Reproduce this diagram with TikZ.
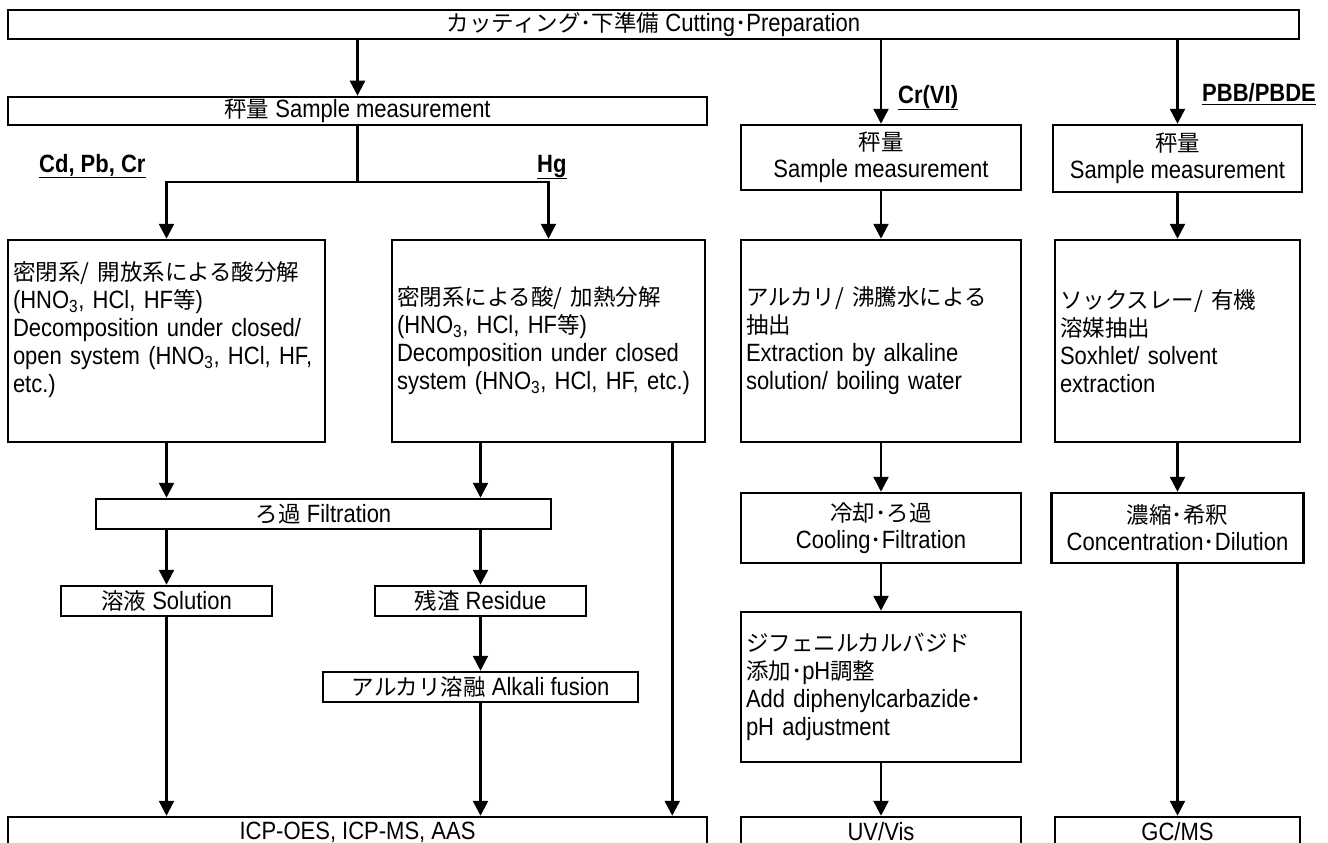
\documentclass[tikz,border=0pt]{standalone}
\usepackage{fontspec}
\setmainfont{Liberation Sans}[FakeStretch=0.88]
\newfontfamily\jpfont{Noto Sans CJK JP}[Scale=0.9]
\usetikzlibrary{arrows.meta}
\def\ja#1{{\jpfont #1}}

\begin{document}
\begin{tikzpicture}[x=1pt, y=-1pt,
	box/.style={draw, line width=2.5pt, inner sep=0pt, align=center, font=\fontsize{25}{27}\selectfont},
	leftbox/.style={box, align=left, inner xsep=5pt, text width=#1, font=\fontsize{25}{28}\selectfont},
	tag/.style={inner sep=0pt, anchor=base west, font=\fontsize{25}{27}\selectfont\bfseries},
	arr/.style={line width=2.5pt, -{Triangle[length=15pt,width=15pt]}}]
			%%%%% START %%%%%
			\useasboundingbox (0,0) rectangle (1328,843);
			\clip (0,0) rectangle (1328,843);
			
			\node[box, minimum width=1291pt, minimum height=29pt] (cut) at (653.5, 24.5) {\ja{カッティング･下準備} Cutting\ja{･}Preparation};
			
			% Cd, Pb, Cr / Hg
			\node[box, minimum width=699pt, minimum height=28pt] (meas) at (357.5, 111) {\ja{秤量} Sample measurement};
			\node[tag] (cdpb) at (39, 172) {\underline{Cd, Pb, Cr}};
			\node[tag] (hg) at (537, 172) {\underline{Hg}};
			\node[leftbox=307pt, minimum width=317pt, minimum height=202pt] (dec1) at (166.5, 341) {\ja{密閉系/ 開放系による酸分解}\\(HNO\textsubscript{3}, HCl, HF\ja{等})\\Decomposition under closed/\\open system (HNO\textsubscript{3}, HCl, HF,\\etc.)\\\mbox{}};
			\node[leftbox=303pt, minimum width=313pt, minimum height=202pt] (dec2) at (548.5, 341) {\ja{密閉系による酸/ 加熱分解}\\(HNO\textsubscript{3}, HCl, HF\ja{等})\\Decomposition under closed\\system (HNO\textsubscript{3}, HCl, HF, etc.)};
			\node[box, minimum width=455pt, minimum height=30pt] (filt) at (323.5, 514) {\ja{ろ過} Filtration};
			\node[box, minimum width=211pt, minimum height=30pt] (sol) at (166.5, 601) {\ja{溶液} Solution};
			\node[box, minimum width=211pt, minimum height=30pt] (resid) at (480.5, 601) {\ja{残渣} Residue};
			\node[box, minimum width=315pt, minimum height=30pt] (alk) at (480.5, 687) {\ja{アルカリ溶融} Alkali fusion};
			\node[box, minimum width=699pt, minimum height=30pt] (icp) at (357.5, 832) {ICP-OES, ICP-MS, AAS};
			
			% Cr(VI)
			\node[tag] (crvi) at (898, 103) {\underline{Cr(VI)}};
			\node[box, minimum width=280pt, minimum height=65pt] (crmeas) at (881, 157.5) {\ja{秤量}\\Sample measurement};
			\node[leftbox=270pt, minimum width=280pt, minimum height=202pt] (crext) at (881, 341) {\ja{アルカリ/ 沸騰水による}\\\ja{抽出}\\Extraction by alkaline\\solution/ boiling water};
			\node[box, minimum width=280pt, minimum height=70pt] (cool) at (881, 528) {\ja{冷却･ろ過}\\Cooling\ja{･}Filtration};
			\node[leftbox=270pt, minimum width=280pt, minimum height=150pt] (dpc) at (881, 687) {\ja{ジフェニルカルバジド}\\\ja{添加･}pH\ja{調整}\\Add diphenylcarbazide\ja{･}\\pH adjustment};
			\node[box, minimum width=280pt, minimum height=30pt] (uv) at (881, 832) {UV/Vis};
			
			% PBB/PBDE
			\node[tag] (pbb) at (1202, 102) {\underline{PBB/PBDE}};
			\node[box, minimum width=249pt, minimum height=67pt] (pbmeas) at (1177.5, 158.5) {\ja{秤量}\\Sample measurement};
			\node[leftbox=235pt, minimum width=245pt, minimum height=202pt] (pbext) at (1177.5, 341) {\ja{ソックスレー/ 有機}\\\ja{溶媒抽出}\\Soxhlet/ solvent\\extraction};
			\node[box, minimum width=252pt, minimum height=70pt] (conc) at (1177.5, 528) {\ja{濃縮･希釈}\\Concentration\ja{･}Dilution};
			\node[box, minimum width=245pt, minimum height=30pt] (gcms) at (1177.5, 832) {GC/MS};
			
			% arrows
			\draw[arr] (cut.south -| meas.north) -- (meas.north);
			\draw[arr] (cut.south -| crmeas.north) -- (crmeas.north);
			\draw[arr] (cut.south -| pbmeas.north) -- (pbmeas.north);
			
			\coordinate (split) at (357.5, 182);
			\draw[line width=2.5pt] (meas.south) -- (split);
			\draw[arr] (split) -| (dec1.north);
			\draw[arr] (split) -| (dec2.north);
			\draw[arr] (dec1.south) -- (dec1.south |- filt.north);
			\draw[arr] (resid.north |- dec2.south) -- (resid.north |- filt.north);
			\draw[arr] (sol.north |- filt.south) -- (sol.north);
			\draw[arr] (resid.north |- filt.south) -- (resid.north);
			\draw[arr] (resid.south) -- (resid.south |- alk.north);
			\draw[arr] (sol.south) -- (sol.south |- icp.north);
			\draw[arr] (resid.south |- alk.south) -- (resid.south |- icp.north);
			\draw[arr] ([xshift=-34pt]dec2.south east) -- ([xshift=-34pt]dec2.south east |- icp.north);
			
			\draw[arr] (crmeas.south) -- (crext.north);
			\draw[arr] (crext.south) -- (cool.north);
			\draw[arr] (cool.south) -- (dpc.north);
			\draw[arr] (dpc.south) -- (uv.north);
			
			\draw[arr] (pbmeas.south) -- (pbext.north);
			\draw[arr] (pbext.south) -- (conc.north);
			\draw[arr] (conc.south) -- (gcms.north);
			%%%%% END %%%%%
\end{tikzpicture}
\end{document}
